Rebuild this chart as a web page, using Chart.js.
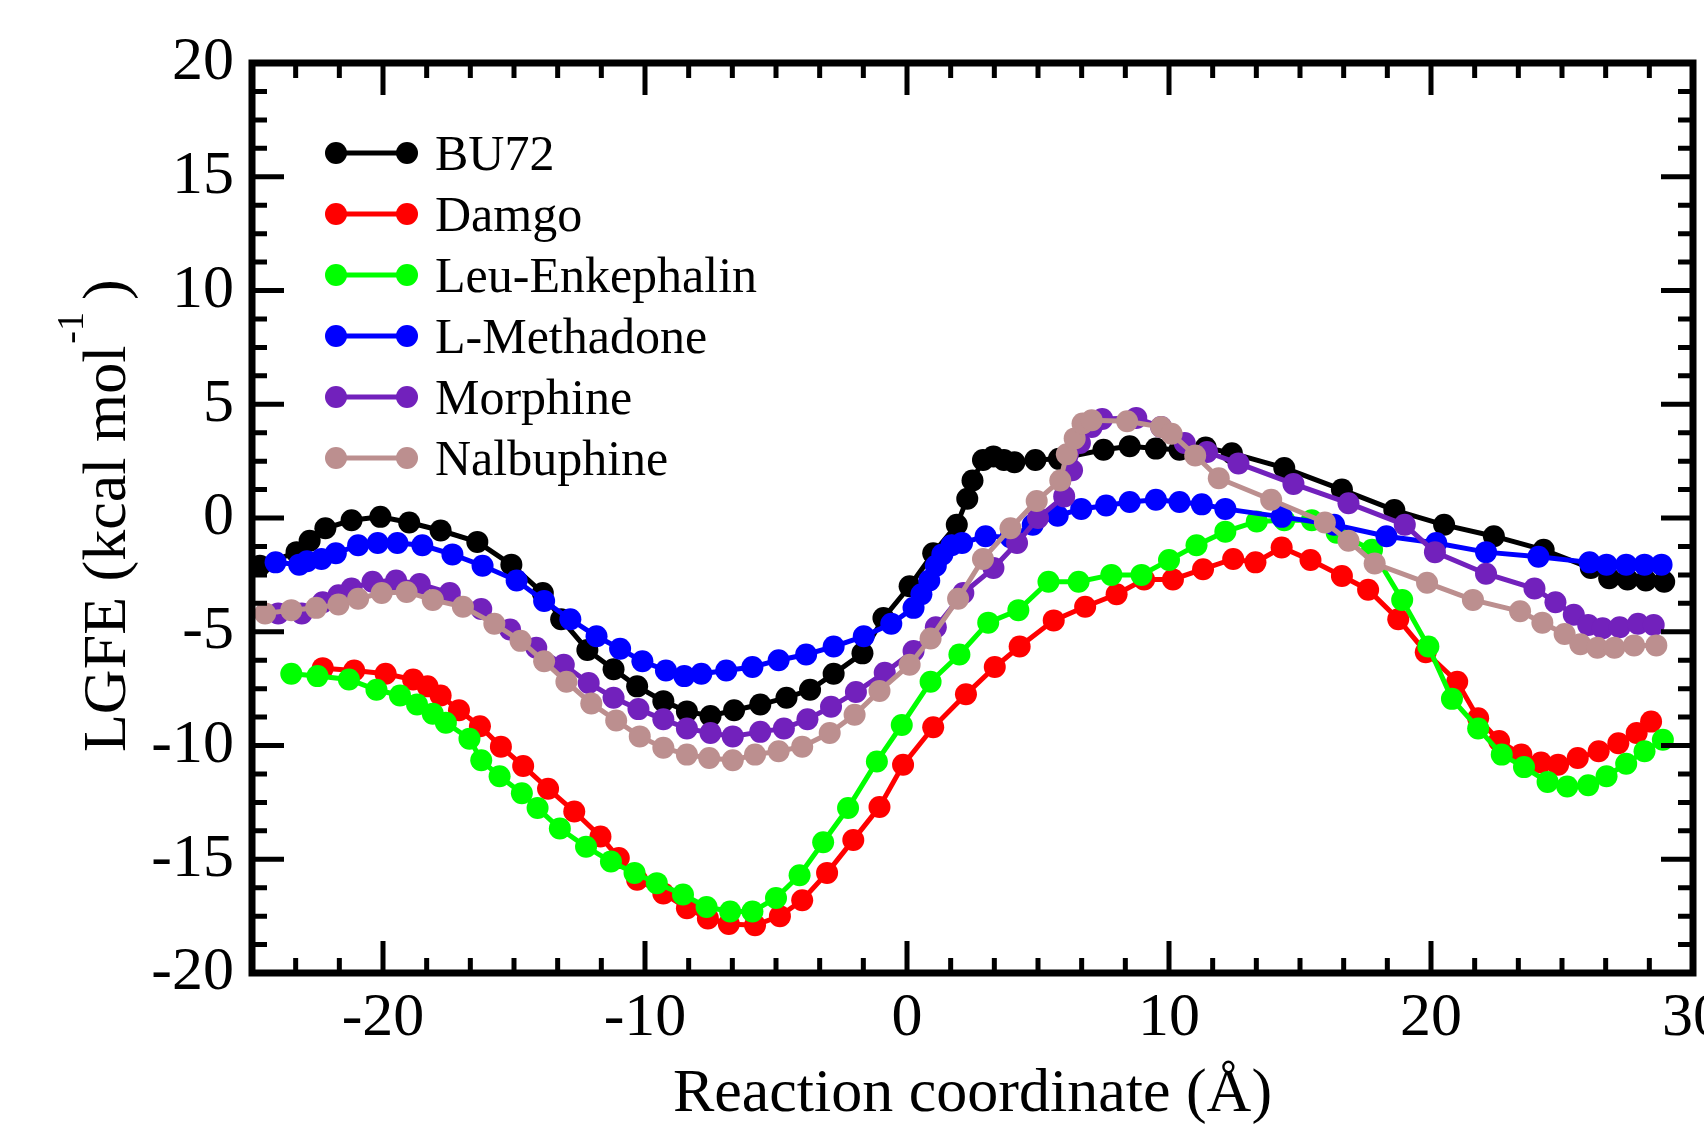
<!DOCTYPE html>
<html>
<head>
<meta charset="utf-8">
<script src="https://cdn.jsdelivr.net/npm/chart.js@4.4.1/dist/chart.umd.min.js"></script>
<style>
  html, body { margin: 0; padding: 0; background: #fff; }
  #wrap { width: 1704px; height: 1129px; }
</style>
</head>
<body>
<div id="wrap"><canvas id="lgfe" width="1704" height="1129"></canvas></div>
<script>
// values (x in Å, y in kcal/mol)
const bu72X = [-24.7, -23.3, -22.8, -22.2, -21.2, -20.1, -19.0, -17.8, -16.4, -15.1, -13.9, -13.2, -12.2, -11.2, -10.3, -9.3, -8.4, -7.5, -6.6, -5.6, -4.6, -3.7, -2.8, -1.7, -0.9, 0.1, 1.0, 1.9, 2.3, 2.5, 2.9, 3.3, 3.7, 4.1, 4.9, 5.8, 7.5, 8.5, 9.5, 10.4, 11.4, 12.4, 14.4, 16.6, 18.6, 20.5, 22.4, 24.3, 26.1, 26.8, 27.5, 28.2, 28.9];
const bu72Y = [-2.1, -1.5, -1.0, -0.45, -0.1, 0.05, -0.2, -0.55, -1.05, -2.05, -3.3, -4.45, -5.8, -6.65, -7.4, -8.05, -8.5, -8.7, -8.45, -8.2, -7.9, -7.55, -6.85, -5.95, -4.4, -3.0, -1.55, -0.3, 0.85, 1.65, 2.55, 2.7, 2.55, 2.45, 2.55, 2.6, 3.0, 3.15, 3.05, 3.0, 3.1, 2.85, 2.2, 1.25, 0.35, -0.3, -0.8, -1.4, -2.2, -2.65, -2.7, -2.75, -2.8];

const damgoX = [-22.3, -21.1, -19.9, -18.85, -18.3, -17.8, -17.1, -16.3, -15.5, -14.65, -13.7, -12.7, -11.7, -11.0, -10.3, -9.3, -8.4, -7.6, -6.8, -5.8, -4.85, -4.0, -3.05, -2.05, -1.05, -0.15, 1.0, 2.25, 3.35, 4.3, 5.6, 6.8, 8.0, 9.05, 10.15, 11.3, 12.45, 13.3, 14.3, 15.4, 16.6, 17.6, 18.75, 19.8, 21.0, 21.8, 22.6, 23.45, 24.2, 24.85, 25.6, 26.4, 27.15, 27.85, 28.4];
const damgoY = [-6.6, -6.7, -6.85, -7.1, -7.4, -7.8, -8.45, -9.15, -10.05, -10.9, -11.9, -12.9, -14.0, -14.95, -15.9, -16.5, -17.15, -17.6, -17.85, -17.9, -17.5, -16.8, -15.6, -14.15, -12.7, -10.85, -9.2, -7.75, -6.55, -5.65, -4.5, -3.9, -3.35, -2.7, -2.7, -2.25, -1.8, -1.95, -1.3, -1.85, -2.55, -3.15, -4.45, -5.9, -7.2, -8.8, -9.8, -10.4, -10.75, -10.85, -10.55, -10.25, -9.9, -9.45, -8.95];

const leuX = [-23.5, -22.5, -21.3, -20.25, -19.35, -18.7, -18.1, -17.6, -16.7, -16.25, -15.55, -14.7, -14.1, -13.25, -12.25, -11.3, -10.4, -9.55, -8.55, -7.65, -6.75, -5.9, -5.0, -4.1, -3.2, -2.25, -1.15, -0.2, 0.9, 2.0, 3.1, 4.25, 5.4, 6.55, 7.8, 8.95, 10.0, 11.05, 12.15, 13.35, 14.4, 15.45, 16.4, 17.75, 18.9, 19.9, 20.8, 21.8, 22.7, 23.55, 24.45, 25.2, 26.0, 26.7, 27.45, 28.15, 28.85];
const leuY = [-6.85, -6.95, -7.1, -7.55, -7.8, -8.2, -8.6, -9.0, -9.7, -10.65, -11.35, -12.1, -12.75, -13.65, -14.45, -15.1, -15.6, -16.05, -16.55, -17.1, -17.3, -17.3, -16.7, -15.7, -14.25, -12.75, -10.7, -9.1, -7.2, -6.0, -4.6, -4.05, -2.8, -2.8, -2.5, -2.5, -1.85, -1.2, -0.6, -0.15, -0.1, -0.1, -0.65, -1.4, -3.6, -5.65, -7.95, -9.25, -10.4, -10.95, -11.6, -11.8, -11.75, -11.35, -10.8, -10.25, -9.75];

const methadoneX = [-24.1, -23.2, -22.9, -22.35, -21.8, -20.95, -20.2, -19.45, -18.5, -17.35, -16.2, -14.9, -13.85, -12.85, -11.85, -10.95, -10.1, -9.2, -8.5, -7.85, -6.9, -5.9, -4.9, -3.85, -2.8, -1.65, -0.6, 0.25, 0.55, 0.85, 1.1, 1.35, 1.7, 2.1, 3.0, 3.95, 4.8, 5.75, 6.65, 7.6, 8.5, 9.5, 10.4, 11.25, 12.15, 14.3, 16.3, 18.3, 20.2, 22.1, 24.1, 26.05, 26.7, 27.45, 28.15, 28.8];
const methadoneY = [-1.95, -2.05, -1.9, -1.8, -1.55, -1.2, -1.1, -1.1, -1.2, -1.6, -2.1, -2.75, -3.65, -4.45, -5.2, -5.75, -6.3, -6.7, -6.95, -6.85, -6.7, -6.55, -6.25, -6.0, -5.65, -5.2, -4.65, -3.95, -3.35, -2.75, -2.1, -1.6, -1.2, -1.1, -0.8, -0.85, -0.3, 0.1, 0.4, 0.55, 0.7, 0.8, 0.7, 0.6, 0.4, 0.05, -0.3, -0.8, -1.1, -1.5, -1.7, -1.95, -2.05, -2.05, -2.05, -2.05];

const morphineX = [-24.0, -23.1, -22.3, -21.7, -21.2, -20.4, -19.5, -18.6, -17.45, -16.25, -15.15, -14.15, -13.1, -12.15, -11.2, -10.25, -9.3, -8.4, -7.5, -6.65, -5.6, -4.7, -3.8, -2.9, -1.95, -0.85, 0.25, 1.1, 2.15, 3.3, 4.2, 5.0, 6.0, 6.3, 6.6, 7.05, 7.45, 8.75, 9.7, 10.6, 11.45, 12.65, 14.75, 16.85, 19.0, 20.15, 22.1, 23.95, 24.75, 25.45, 26.0, 26.55, 27.2, 27.9, 28.5];
const morphineY = [-4.2, -4.2, -3.7, -3.4, -3.1, -2.8, -2.75, -2.9, -3.3, -4.0, -4.9, -5.7, -6.45, -7.25, -7.9, -8.4, -8.85, -9.25, -9.45, -9.6, -9.4, -9.25, -8.85, -8.3, -7.65, -6.8, -5.85, -4.8, -3.3, -2.2, -1.1, 0.0, 0.95, 2.1, 3.3, 4.0, 4.35, 4.4, 4.0, 3.3, 2.9, 2.4, 1.5, 0.65, -0.3, -1.5, -2.45, -3.1, -3.7, -4.25, -4.7, -4.85, -4.8, -4.65, -4.7];

const nalbuphineX = [-24.5, -23.5, -22.55, -21.7, -20.95, -20.05, -19.1, -18.1, -16.95, -15.75, -14.75, -13.85, -13.0, -12.05, -11.1, -10.2, -9.3, -8.4, -7.55, -6.65, -5.8, -4.9, -4.0, -2.95, -2.0, -1.05, 0.1, 0.9, 1.95, 2.9, 3.95, 4.95, 5.85, 6.1, 6.4, 6.7, 7.05, 8.4, 9.7, 10.1, 11.0, 11.9, 13.9, 15.95, 16.85, 17.85, 19.85, 21.6, 23.4, 24.25, 25.1, 25.7, 26.35, 27.0, 27.75, 28.6];
const nalbuphineY = [-4.2, -4.05, -3.95, -3.8, -3.55, -3.3, -3.25, -3.6, -3.9, -4.65, -5.4, -6.3, -7.2, -8.15, -8.9, -9.6, -10.1, -10.4, -10.55, -10.65, -10.4, -10.25, -10.05, -9.45, -8.65, -7.6, -6.45, -5.3, -3.55, -1.8, -0.45, 0.75, 1.65, 2.8, 3.5, 4.15, 4.3, 4.25, 4.0, 3.7, 2.75, 1.75, 0.8, -0.2, -1.0, -2.0, -2.85, -3.6, -4.1, -4.6, -5.1, -5.55, -5.7, -5.7, -5.6, -5.6];

const seriesNames = ['BU72', 'Damgo', 'Leu-Enkephalin', 'L-Methadone', 'Morphine', 'Nalbuphine'];
const seriesColors = ['#000000', '#ff0000', '#00ff00', '#0000ff', '#7221bc', '#bc8f8f'];
const seriesX = [bu72X, damgoX, leuX, methadoneX, morphineX, nalbuphineX];
const seriesY = [bu72Y, damgoY, leuY, methadoneY, morphineY, nalbuphineY];

const xMajorTicks = [-20, -10, 0, 10, 20, 30];
const yMajorTicks = [-20, -15, -10, -5, 0, 5, 10, 15, 20];
const xMinorStep = 10 / 6;
const yMinorStep = 1.25;

const SERIF = "'Liberation Serif', 'Times New Roman', serif";
Chart.defaults.font.family = SERIF;
Chart.defaults.color = '#000';

const zip = (xs, ys) => xs.map((x, i) => ({ x, y: ys[i] }));

const datasets = seriesNames.map((name, i) => ({
  label: name,
  data: zip(seriesX[i], seriesY[i]),
  borderColor: seriesColors[i],
  backgroundColor: seriesColors[i],
  pointBackgroundColor: seriesColors[i],
  pointBorderWidth: 0,
  pointRadius: 11,
  borderWidth: 5,
  tension: 0,
  order: seriesNames.length - i   // later sets drawn on top
}));

// frame, inward ticks, legend and y title
const decor = {
  id: 'decor',
  afterDatasetsDraw(chart) {
    const { ctx, chartArea: a, scales: { x, y } } = chart;
    ctx.save();
    ctx.strokeStyle = '#000';
    ctx.lineCap = 'butt';
    ctx.lineWidth = 5;

    const xTick = (v, len) => {
      const px = x.getPixelForValue(v);
      ctx.beginPath();
      ctx.moveTo(px, a.bottom); ctx.lineTo(px, a.bottom - len);
      ctx.moveTo(px, a.top); ctx.lineTo(px, a.top + len);
      ctx.stroke();
    };
    const yTick = (v, len) => {
      const py = y.getPixelForValue(v);
      ctx.beginPath();
      ctx.moveTo(a.left, py); ctx.lineTo(a.left + len, py);
      ctx.moveTo(a.right, py); ctx.lineTo(a.right - len, py);
      ctx.stroke();
    };
    xMajorTicks.forEach(v => xTick(v, 32));
    for (let k = -40; k <= 40; k++) {
      const v = xMajorTicks[0] + k * xMinorStep;
      if (k % 6 === 0 || v <= x.min + 0.01 || v >= x.max - 0.01) continue;
      xTick(v, 15);
    }
    yMajorTicks.forEach(v => yTick(v, 32));
    for (let k = -40; k <= 40; k++) {
      const v = k * yMinorStep;
      if (k % 4 === 0 || v <= y.min + 0.01 || v >= y.max - 0.01) continue;
      yTick(v, 15);
    }

    ctx.lineWidth = 7;
    ctx.strokeRect(a.left, a.top, a.right - a.left, a.bottom - a.top);

    // legend
    seriesNames.forEach((name, i) => {
      const ly = 153 + 61 * i;
      ctx.strokeStyle = seriesColors[i];
      ctx.fillStyle = seriesColors[i];
      ctx.lineWidth = 5;
      ctx.beginPath();
      ctx.moveTo(336, ly); ctx.lineTo(407, ly);
      ctx.stroke();
      [336, 407].forEach(cx => {
        ctx.beginPath();
        ctx.arc(cx, ly, 11, 0, Math.PI * 2);
        ctx.fill();
      });
      ctx.fillStyle = '#000';
      ctx.font = `50px ${SERIF}`;
      ctx.textBaseline = 'middle';
      ctx.textAlign = 'left';
      ctx.fillText(name, 435, ly + 4);
    });

    // y axis title with superscript
    ctx.translate(125, 752);
    ctx.rotate(-Math.PI / 2);
    ctx.fillStyle = '#000';
    ctx.textBaseline = 'alphabetic';
    ctx.textAlign = 'left';
    ctx.font = `62px ${SERIF}`;
    const main = 'LGFE (kcal mol';
    ctx.fillText(main, 0, 0);
    let w = ctx.measureText(main).width;
    ctx.font = `38px ${SERIF}`;
    ctx.fillText('-1', w + 2, -42);
    w += ctx.measureText('-1').width + 14;
    ctx.font = `62px ${SERIF}`;
    ctx.fillText(')', w, 0);
    ctx.restore();
  }
};

new Chart(document.getElementById('lgfe'), {
  type: 'line',
  data: { datasets },
  options: {
    responsive: false,
    animation: false,
    devicePixelRatio: 1,
    layout: { padding: { left: 0, top: 63, right: 11, bottom: 0 } },
    plugins: { legend: { display: false }, tooltip: { enabled: false } },
    scales: {
      x: {
        type: 'linear',
        min: -25, max: 30,
        afterFit(s) { s.height = 156; s.paddingLeft = 0; s.paddingRight = 0; },
        afterBuildTicks(s) { s.ticks = xMajorTicks.map(v => ({ value: v })); },
        grid: { display: false, drawTicks: false },
        border: { display: false },
        ticks: { font: { size: 62 }, padding: 9, maxRotation: 0, autoSkip: false,
                  callback: v => String(v) },
        title: { display: true, text: 'Reaction coordinate (Å)',
                 font: { size: 62, lineHeight: 1.0 },
                 padding: { top: 0, bottom: 3 } }
      },
      y: {
        type: 'linear',
        min: -20, max: 20,
        afterFit(s) { s.width = 252; s.paddingTop = 0; s.paddingBottom = 0; },
        afterBuildTicks(s) { s.ticks = yMajorTicks.map(v => ({ value: v })); },
        grid: { display: false, drawTicks: false },
        border: { display: false },
        ticks: { font: { size: 62 }, padding: 18, autoSkip: false,
                  callback: v => String(v) }
      }
    }
  },
  plugins: [decor]
});
</script>
</body>
</html>
